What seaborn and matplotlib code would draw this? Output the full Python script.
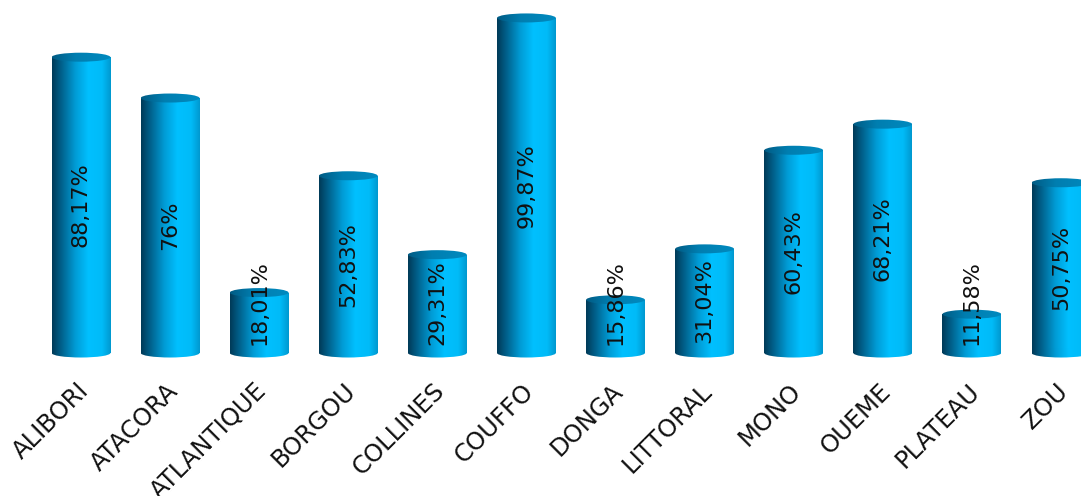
import numpy as np
import matplotlib
matplotlib.use("Agg")
import matplotlib.pyplot as plt
import seaborn as sns
import pandas as pd
from matplotlib.patches import Ellipse, Rectangle
from matplotlib.colors import LinearSegmentedColormap
import matplotlib.transforms as mtransforms

regions = ["ALIBORI", "ATACORA", "ATLANTIQUE", "BORGOU", "COLLINES", "COUFFO",
           "DONGA", "LITTORAL", "MONO", "OUEME", "PLATEAU", "ZOU"]
values = [88.17, 76, 18.01, 52.83, 29.31, 99.87, 15.86, 31.04, 60.43, 68.21, 11.58, 50.75]
value_labels = ["88,17%", "76%", "18,01%", "52,83%", "29,31%", "99,87%",
                "15,86%", "31,04%", "60,43%", "68,21%", "11,58%", "50,75%"]

sns.set_theme(style="white")
plt.rcParams["font.family"] = ["DejaVu Sans"]

PX_PER_UNIT = 3.355
fig = plt.figure(figsize=(10.81, 4.96), dpi=100)
ax = fig.add_axes([0, 0.2641, 1, 0.7359])

df = pd.DataFrame({"region": regions, "value": values})
sns.barplot(data=df, x="region", y="value", ax=ax, width=0.66,
            color="#00b0f0", saturation=1)

body_cmap = LinearSegmentedColormap.from_list(
    "body", [(0.0, "#003a57"), (0.12, "#00577f"), (0.4, "#009cd6"),
             (0.62, "#00c0ff"), (0.85, "#00bbf8"), (1.0, "#0098cf")])
top_cmap = LinearSegmentedColormap.from_list(
    "top", [(0.0, "#005b84"), (0.4, "#007eb0"), (1.0, "#008abf")])
grad = np.linspace(0, 1, 256).reshape(1, -1)
eh = 9 / PX_PER_UNIT

bars = list(ax.patches)
for bar in bars:
    x0 = bar.get_x(); w = bar.get_width(); h = bar.get_height()
    xc = x0 + w / 2
    bar.set_visible(False)
    rect = Rectangle((x0, 0), w, h, transform=ax.transData, facecolor="none", edgecolor="none")
    ax.add_patch(rect)
    im = ax.imshow(grad, cmap=body_cmap, extent=(x0, x0 + w, -eh, h),
                   aspect="auto", interpolation="bilinear", zorder=2)
    im.set_clip_path(rect)
    bell = Ellipse((xc, 0), w, eh, transform=ax.transData, facecolor="none", edgecolor="none")
    ax.add_patch(bell)
    im2 = ax.imshow(grad, cmap=body_cmap, extent=(x0, x0 + w, -eh, h),
                    aspect="auto", interpolation="bilinear", zorder=2)
    im2.set_clip_path(bell)
    tell = Ellipse((xc, h), w, eh, transform=ax.transData, facecolor="none", edgecolor="none")
    ax.add_patch(tell)
    im3 = ax.imshow(grad, cmap=top_cmap, extent=(x0, x0 + w, h - eh, h + eh),
                    aspect="auto", interpolation="bilinear", zorder=3)
    im3.set_clip_path(tell)

ax.set_xlim(-0.909, 11.225)
ax.set_ylim(-12 / PX_PER_UNIT, 353 / PX_PER_UNIT)
for s in ax.spines.values():
    s.set_visible(False)
ax.set_yticks([])
ax.set_xlabel(""); ax.set_ylabel("")
ax.tick_params(axis="x", length=0, pad=16)
ax.set_xticks(range(len(regions)))
ax.set_xticklabels(regions, rotation=45, ha="right", va="center",
                   rotation_mode="anchor", fontsize=17.5, color="#111111")
offset = mtransforms.ScaledTranslation(4 / 100, 0, fig.dpi_scale_trans)
for lab in ax.get_xticklabels():
    lab.set_transform(lab.get_transform() + offset)

texts = []
for bar, lbl in zip(bars, value_labels):
    xc = bar.get_x() + bar.get_width() / 2
    t = ax.text(xc, bar.get_height() / 2, lbl, rotation=90, ha="center", va="center",
                fontsize=16, color="#111111", zorder=5)
    texts.append((t, bar.get_height()))

fig.canvas.draw()
renderer = fig.canvas.get_renderer()
base_disp = ax.transData.transform((0, 0))[1]
for t, h in texts:
    bb = t.get_window_extent(renderer)
    if bb.y0 < base_disp + 8:
        shift = (base_disp + 8) - bb.y0
        t.set_y(h / 2 + shift / PX_PER_UNIT)

fig.savefig("out.png", dpi=100, facecolor="white")
